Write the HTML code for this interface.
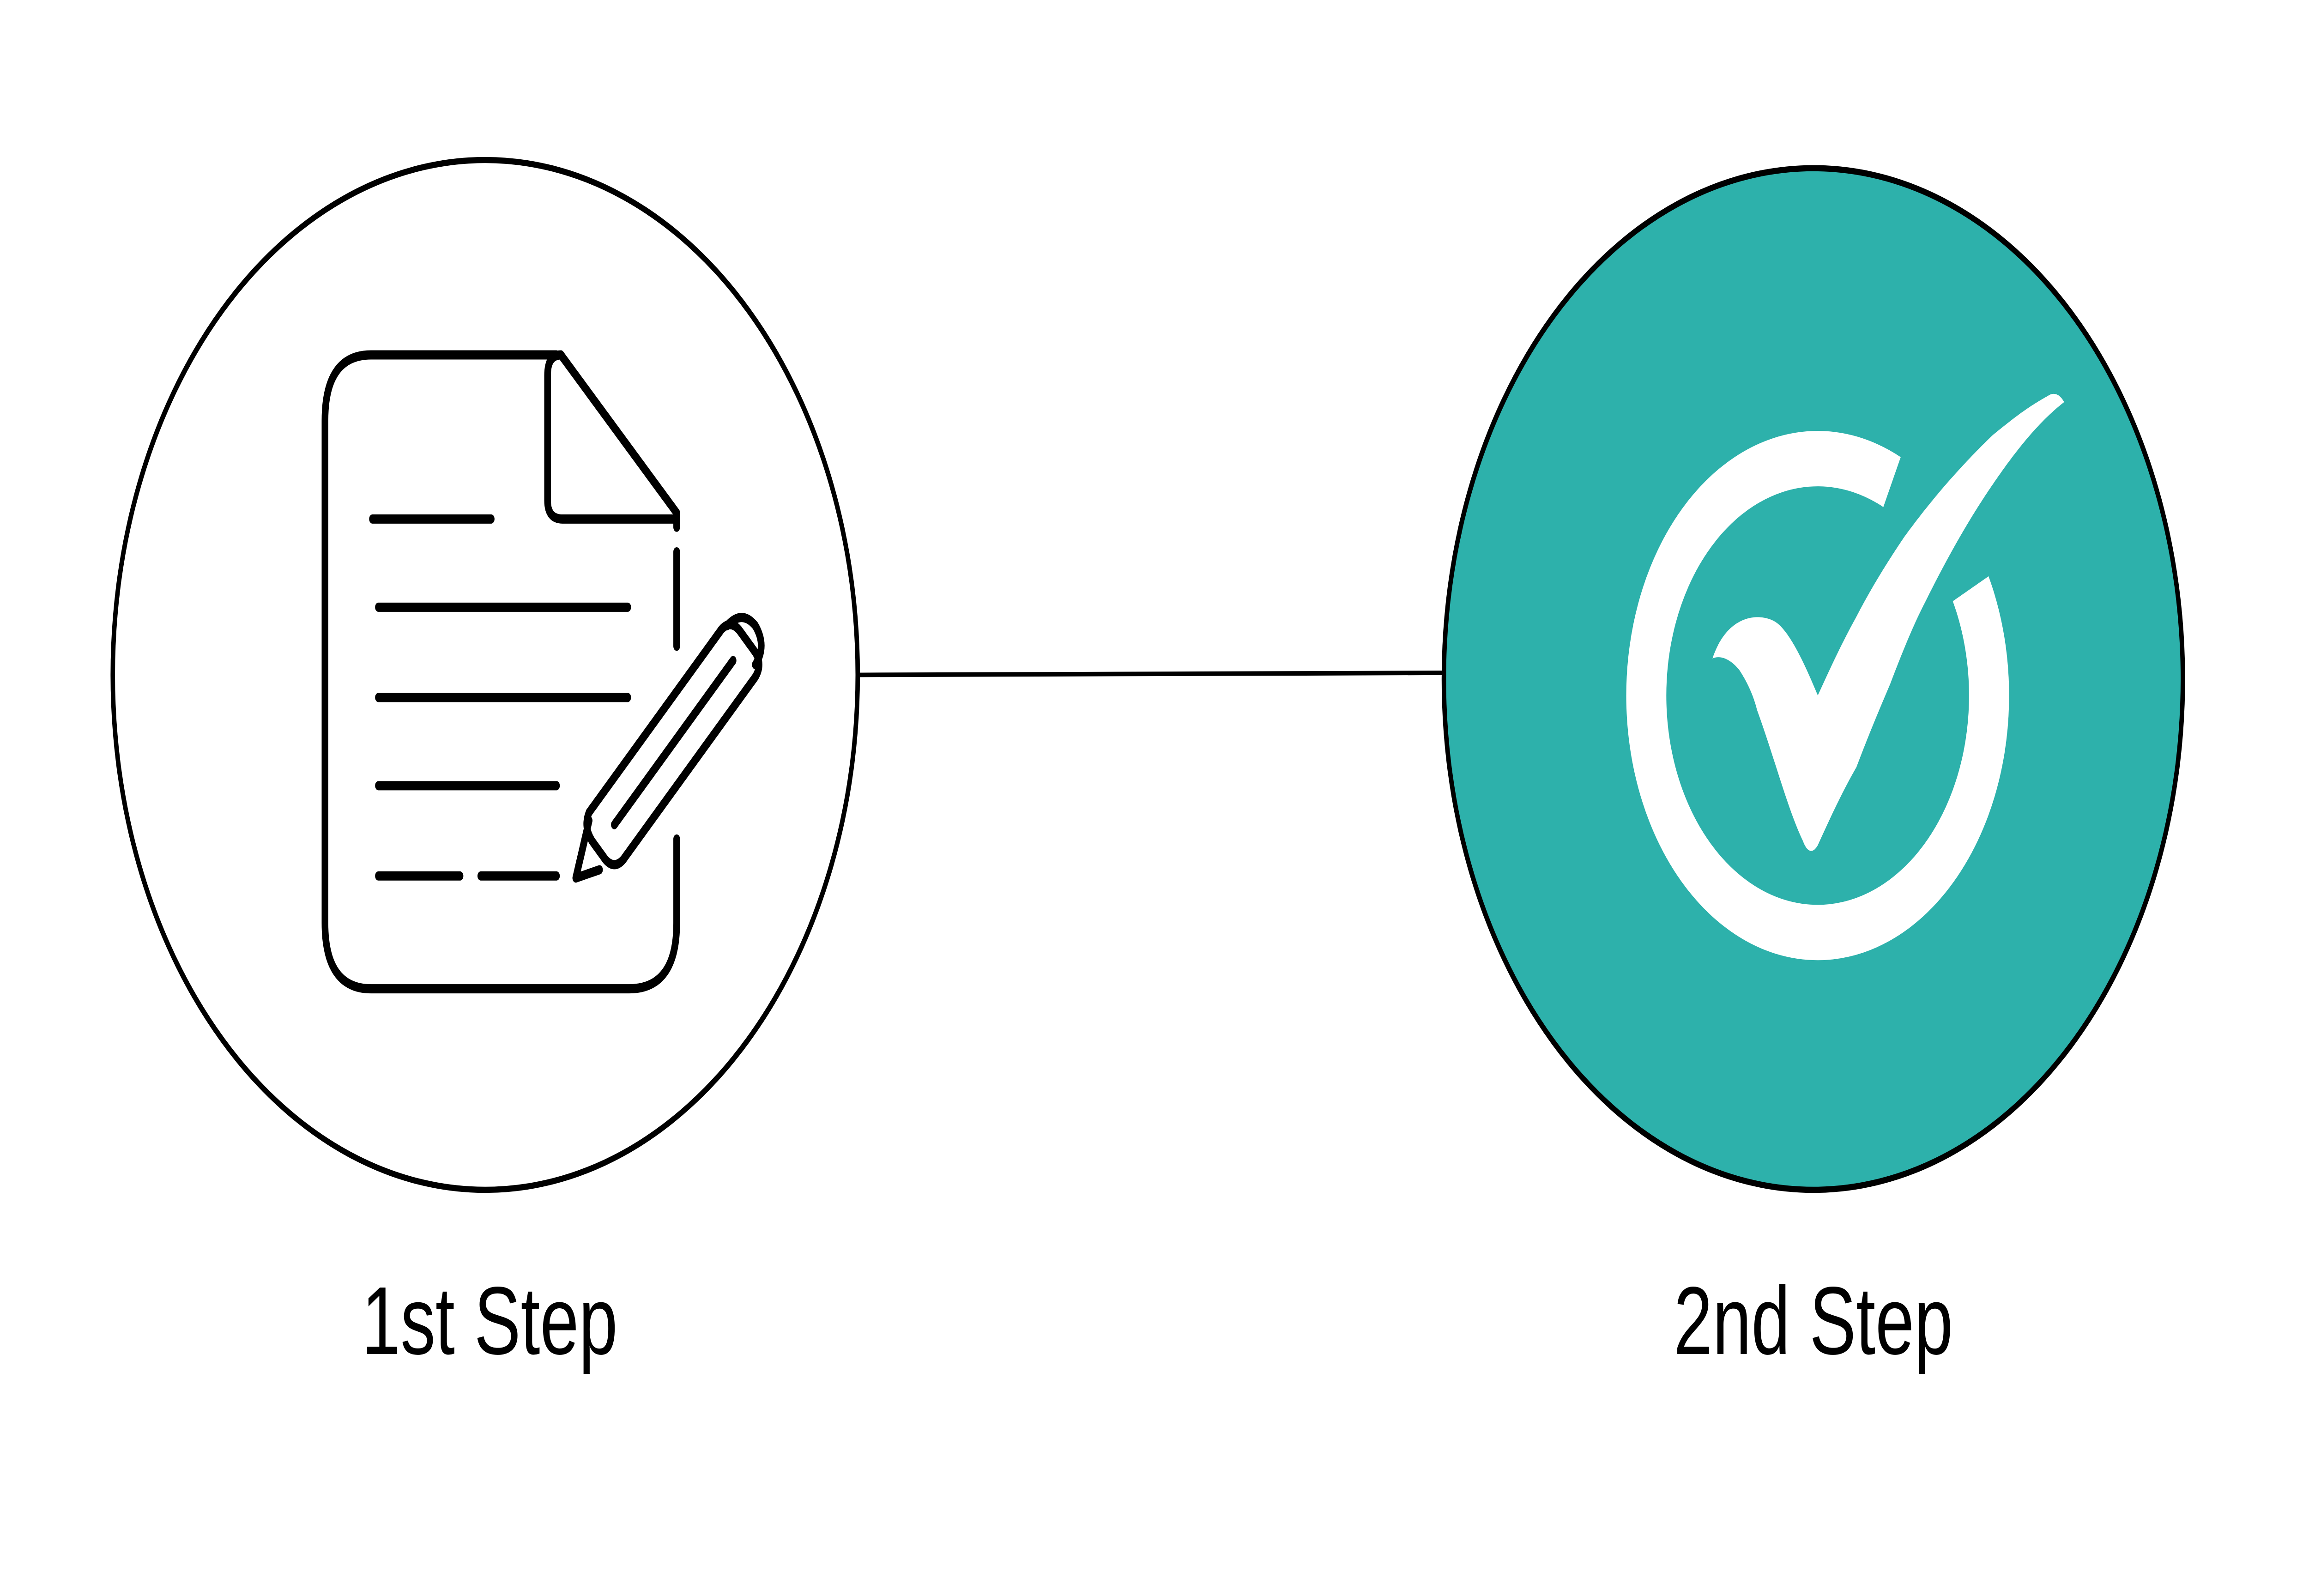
<!DOCTYPE html>
<html><head><meta charset="utf-8"><style>html,body{margin:0;padding:0;background:#fff;width:100%;height:100%;overflow:hidden}svg{display:block;position:fixed;left:0;top:0;width:100vw;height:100vh}</style></head>
<body>
<svg viewBox="0 0 1556 778" preserveAspectRatio="none" xmlns="http://www.w3.org/2000/svg">
<rect width="1556" height="778" fill="#fff"/>
<line x1="578" y1="329" x2="973" y2="328" stroke="#000" stroke-width="2.2"/>
<circle cx="327" cy="329" r="251" fill="#fff" stroke="#000" stroke-width="3"/>
<circle cx="1222" cy="331" r="249" fill="#2db1ab" stroke="#000" stroke-width="3"/>
<g fill="none" stroke="#000" stroke-width="4.5" stroke-linecap="round" stroke-linejoin="round">
<path d="M375,173 L250,173 Q219,173 219,205 L219,450 Q219,482 250,482 L424,482 Q456,482 456,450 L456,409"/>
<path d="M456,269 L456,315"/>
<path d="M456,257 L456,250 L378,173 Q369,173 369,183 L369,244 Q369,253 379,253 L455,253"/>
<path d="M251,253 L331,253 M255,296 L423,296 M255,340 L423,340 M255,383 L375,383 M255,427 L310,427 M324,427 L375,427"/>
<path d="M397,396 L486,307 Q492,302 498,307 L509,318 Q514,324 509,330 L420,419 Q414,424 408,419 L399,410 Q393,403 397,396 Z"/>
<path d="M414,402 L494,322"/>
<path d="M490,305 Q500,297 509,305 Q517,315 509,324"/>
<path d="M397,400 L388,428 L404,424"/>
</g>
<path d="M1328,287 A115.5,115.5 0 1 1 1275,235" fill="none" stroke="#fff" stroke-width="27"/>
<path d="M1154,321 C1160,319 1167,322 1172,326.5 C1178,333 1182,340 1184,346 C1196,370 1205,395 1215,410 C1218,416 1222,416 1225,412 C1235,396 1243,384 1251,374 C1262,353 1270,340 1274,333 C1285,312 1292,301 1297,294 C1310,275 1325,255 1343,236 C1360,218 1375,205 1391,196 C1388,192 1384,191 1380,193 C1365,199 1355,205 1343,212 C1320,228 1300,245 1283,262 C1270,276 1260,288 1251,300.6 C1240,315 1232,328 1225,339 C1218,327 1208,310 1198,304 C1190,299 1165,297 1154,321 Z" fill="#fff"/>
<g font-family="Liberation Sans, sans-serif" font-size="47" fill="#000" text-anchor="middle">
<text x="330" y="660">1st Step</text>
<text x="1222" y="660">2nd Step</text>
</g>
</svg>
</body></html>
